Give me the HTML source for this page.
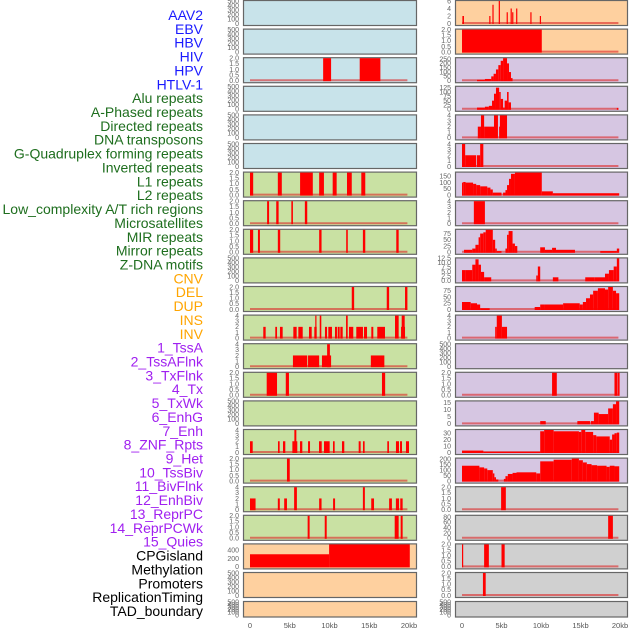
<!DOCTYPE html>
<html><head><meta charset="utf-8">
<style>
html,body{margin:0;padding:0;background:#fff;}
#chart{position:absolute;left:0;top:0;width:630px;height:630px;}
text{font-family:"Liberation Sans",sans-serif;}
</style></head>
<body>
<svg id="chart" width="630" height="630" xmlns="http://www.w3.org/2000/svg"></svg>
<script>
// ---- labels ----
const labelNames = ["AAV2","EBV","HBV","HIV","HPV","HTLV-1","Alu repeats","A-Phased repeats","Directed repeats","DNA transposons","G-Quadruplex forming repeats","Inverted repeats","L1 repeats","L2 repeats","Low_complexity A/T rich regions","Microsatellites","MIR repeats","Mirror repeats","Z-DNA motifs","CNV","DEL","DUP","INS","INV","1_TssA","2_TssAFlnk","3_TxFlnk","4_Tx","5_TxWk","6_EnhG","7_Enh","8_ZNF_Rpts","9_Het","10_TssBiv","11_BivFlnk","12_EnhBiv","13_ReprPC","14_ReprPCWk","15_Quies","CPGisland","Methylation","Promoters","ReplicationTiming","TAD_boundary"];
const labelGroups = [6,13,5,15,5];
const groupColors = ["#1a1aff","#1e6e1e","#ffa500","#a020f0","#000000"];
const xTickLabels = ["0","5kb","10kb","15kb","20kb"];
const xTickValues = [0,5,10,15,20];

// ---- tick sets ----
const t500 = [0,100,200,300,400,500];
const t2 = ["0.0","0.5","1.0","1.5","2.0"];
const t4 = [0,1,2,3,4];

// ---- bar data: [startKb, endKb, value] ----
const L3 = [[9.2,10.2,2],[13.8,16.4,2]];
const L7 = [[0,0.4,2],[3.5,4.0,2],[6.3,7.9,2],[8.7,9.3,2],[10.4,10.9,2],[12.2,12.8,2],[14.0,14.5,2]];
const L8 = [[2.15,2.4,2],[3.3,3.6,2],[5.2,5.4,2],[6.9,7.2,2]];
const L9 = [[0,0.4,2],[1.0,1.25,2],[3.5,3.8,2],[8.7,9.0,2],[12.1,12.3,2],[14.2,14.5,2],[18.4,18.7,2]];
const L11 = [[12.8,13.1,2],[17.2,17.5,2],[19.5,19.8,2]];
const L12 = [[1.67,1.97,2],[3.18,3.4,2],[3.77,4.11,2],[5.45,5.87,2],[6.08,6.63,2],[7.42,7.76,2],[8.09,8.39,2],[8.21,8.34,4],[8.77,8.97,4],[9.43,9.69,2],[9.85,10.31,2],[10.69,10.94,2],[11.03,11.28,2],[11.36,11.66,2],[12.08,12.29,4],[12.45,12.99,2],[13.37,14.21,2],[14.34,14.72,2],[15.26,15.51,2],[16.01,16.98,2],[18.24,18.7,4],[19.08,19.46,4],[19.0,19.5,2]];
const L13 = [[5.4,7.2,2],[7.3,8.7,2],[9.05,10.2,2],[9.7,10.05,4],[15.2,16.9,2]];
const L14 = [[2.1,3.4,2],[4.5,4.9,2],[16.6,17.0,2]];
const L16 = [[0,0.34,2],[3.52,3.73,2],[4.15,4.44,2],[5.33,5.95,2],[5.58,5.83,4],[6.29,6.58,2],[7.3,7.55,2],[8.68,9.02,2],[9.31,10.02,2],[10.44,10.65,2],[11.57,11.86,2],[13.67,13.92,2],[14.21,14.42,2],[17.27,17.48,2],[18.36,18.74,2],[18.87,19.12,2],[19.62,20.0,2]];
const L17 = [[4.65,5.0,2]];
const L18 = [[0,0.7,2],[3.5,3.75,2],[4.3,4.65,2],[5.55,5.9,4],[8.7,9.0,2],[10.45,10.7,2],[14.2,14.45,4],[15.25,15.6,2],[17.5,17.85,2],[18.35,18.75,2],[18.9,19.2,2]];
const L19 = [[7.25,7.5,2],[9.4,9.65,2],[18.2,18.7,2],[18.95,19.2,2]];
const L20 = [[0,9.95,300],[9.95,20.1,534]];

const R1 = [[0.05,0.25,2],[3.45,3.6,2],[3.85,4.0,5],[4.65,4.8,6],[5.65,5.8,3],[6.15,6.3,4],[6.35,6.5,3],[6.85,7.0,4],[8.65,8.8,3],[9.85,10.0,2]];
const R2 = [[0,10.1,2]];
const R3 = [[1.9,2.9,10],[2.9,3.7,20],[3.7,4.0,50],[4.0,4.3,80],[4.3,4.6,130],[4.6,4.9,180],[4.9,5.2,230],[5.2,5.7,260],[5.7,5.95,200],[5.95,6.2,100],[6.2,6.4,30]];
const R4 = [[1.9,2.9,10],[2.9,3.4,15],[3.4,3.8,20],[3.8,4.05,50],[4.05,4.3,90],[4.3,4.7,125],[4.7,4.9,100],[4.9,5.2,60],[5.2,5.4,10],[5.4,5.7,50],[5.7,5.9,100],[5.9,6.2,40],[19.6,19.8,8]];
const R5 = [[2.0,2.4,2],[2.4,2.8,4],[2.8,4.05,2],[4.05,4.55,4],[4.7,4.8,2],[4.8,5.7,4]];
const R6 = [[0,0.4,4],[0.4,1.8,2],[1.9,2.3,2],[2.3,2.7,4]];
const R7 = [[0,0.15,100],[0.15,0.45,105],[0.45,1.4,100],[1.4,1.8,90],[1.8,2.3,80],[2.3,3.2,70],[3.2,3.6,60],[3.6,3.9,45],[3.9,5.0,20],[5.2,5.5,20],[5.5,5.7,40],[5.7,5.95,80],[5.95,6.2,130],[6.2,6.7,170],[6.7,10.1,180],[10.1,11.5,30],[11.5,19.9,15]];
const R8 = [[1.5,2.9,4]];
const R9 = [[0.25,1.3,10],[1.3,1.7,15],[1.7,2.1,30],[2.1,2.3,60],[2.3,2.7,75],[2.7,3.0,80],[3.0,3.9,90],[3.9,4.2,50],[4.2,4.4,15],[4.4,5.0,5],[5.5,5.7,15],[5.7,5.9,70],[5.9,6.4,85],[6.4,6.7,35],[6.7,7.0,25],[9.9,10.5,20],[10.5,11.4,10],[11.4,11.9,18],[11.9,14.3,10],[17.5,19.6,5],[19.6,19.9,15]];
const R10 = [[0,0.4,6],[0.4,1.3,6],[1.3,1.7,9],[1.7,2.1,12],[2.1,2.4,9],[2.4,2.8,5],[2.8,3.7,2],[9.4,9.6,3],[9.6,9.9,8],[11.5,12.2,2],[15.6,16.8,2],[16.8,18.1,2],[18.1,18.6,4],[18.6,19.2,6],[19.2,19.6,8],[19.6,19.9,12.5]];
const R11 = [[0,1.1,30],[1.1,1.9,25],[1.9,2.3,20],[2.3,3.5,5],[9.2,9.9,10],[9.9,10.5,20],[10.5,12.8,20],[12.8,14.9,25],[14.9,15.3,20],[15.3,15.7,30],[15.7,16.2,45],[16.2,16.6,60],[16.6,17.2,75],[17.2,18.1,85],[18.1,18.5,80],[18.5,19.1,90],[19.1,19.5,75],[19.5,19.9,65]];
const R12 = [[4.2,4.4,2],[4.4,5.05,4],[5.05,5.7,2]];
const R14 = [[11.4,12.0,2],[19.3,19.7,2],[19.75,19.95,2]];
const R15 = [[9.9,10.6,2],[14.6,16.2,2],[16.3,16.7,2],[16.7,17.3,8],[17.3,18.5,7],[18.5,19.1,11],[19.1,19.5,14],[19.5,19.9,16]];
const R16 = [[0,2.7,3],[2.7,9.9,1],[9.9,10.4,33],[10.4,11.6,35],[11.6,14.8,33],[14.8,15.1,32],[15.1,15.6,35],[15.6,16.6,32],[16.6,17.0,27],[17.0,18.7,25],[18.7,19.0,20],[19.0,19.3,28],[19.3,19.6,30],[19.6,19.9,31]];
const R17 = [[0,2.2,140],[2.2,2.8,125],[2.8,3.2,115],[3.2,3.9,100],[3.9,4.1,70],[4.1,4.3,35],[4.3,4.6,15],[5.3,5.5,20],[5.5,5.8,45],[5.8,6.4,65],[6.4,6.9,75],[6.9,9.4,80],[9.4,9.9,70],[9.9,11.6,180],[11.6,13.9,195],[13.9,14.8,205],[14.8,15.3,190],[15.3,15.8,170],[15.8,16.4,155],[16.4,17.1,145],[17.1,18.3,140],[18.3,18.7,130],[18.7,19.3,140],[19.3,19.9,135]];
const R18 = [[4.95,5.55,2]];
const R19 = [[18.5,19.1,85]];
const R20 = [[0,0.15,2],[2.8,3.4,2],[5.0,5.4,2]];
const R21 = [[2.65,3.0,2]];

const BLUE="#c8e3ea", GREEN="#c9e1a3", LAV="#d6c6e2", PEACH="#fed09f", GRAY="#d0d0d0";
// [row, col, bg, ticks, domainMax, bars, baseline]
const panels = [
 [0,0,BLUE,t500,500,null],[0,1,PEACH,[0,2,4,6],6,R1],
 [1,0,BLUE,t500,500,null],[1,1,PEACH,t2,2,R2],
 [2,0,BLUE,t2,2,L3],[2,1,LAV,[0,50,100,150,200,250],260,R3],
 [3,0,BLUE,t500,500,null],[3,1,LAV,[0,25,50,75,100,125],130,R4],
 [4,0,BLUE,t500,500,null],[4,1,LAV,t4,4,R5],
 [5,0,BLUE,t500,500,null],[5,1,LAV,t4,4,R6],
 [6,0,GREEN,t2,2,L7],[6,1,LAV,[0,50,100,150],180,R7],
 [7,0,GREEN,t2,2,L8],[7,1,LAV,t4,4,R8],
 [8,0,GREEN,t2,2,L9],[8,1,LAV,[0,25,50,75],90,R9],
 [9,0,GREEN,t500,500,null],[9,1,LAV,["0.0","2.5","5.0","7.5","10.0","12.5"],12.5,R10],
 [10,0,GREEN,t2,2,L11],[10,1,LAV,[0,25,50,75],90,R11],
 [11,0,GREEN,t4,4,L12],[11,1,LAV,t4,4,R12],
 [12,0,GREEN,t4,4,L13],[12,1,LAV,t500,500,null],
 [13,0,GREEN,t2,2,L14],[13,1,LAV,t2,2,R14],
 [14,0,GREEN,t500,500,null],[14,1,LAV,[0,5,10,15],16,R15],
 [15,0,GREEN,t4,4,L16],[15,1,LAV,[0,10,20,30],35,R16],
 [16,0,GREEN,t2,2,L17],[16,1,LAV,[0,50,100,150,200],205,R17],
 [17,0,GREEN,t4,4,L18],[17,1,GRAY,t2,2,R18],
 [18,0,GREEN,t2,2,L19],[18,1,GRAY,[0,20,40,60,80],85,R19],
 [19,0,PEACH,[0,200,400],534,L20,true],[19,1,GRAY,t2,2,R20],
 [20,0,PEACH,t500,500,null],[20,1,GRAY,t2,2,R21],
 [21,0,PEACH,t500,500,null],[21,1,GRAY,t500,500,null]
];

const NS="http://www.w3.org/2000/svg";
const svg=document.getElementById('chart');
function mk(tag,attrs,parent){const e=document.createElementNS(NS,tag);for(const k in attrs)e.setAttribute(k,attrs[k]);(parent||svg).appendChild(e);return e;}

// labels
let li=0;
labelGroups.forEach((n,g)=>{for(let i=0;i<n;i++){const t=mk('text',{x:203,y:20+li*13.86,'text-anchor':'end','font-size':'14',fill:groupColors[g]});t.textContent=labelNames[li];


li++;}});

const colX=[243,455], colW=[173,172], x0=[250,462], kbPx=[7.95,7.9];
function xs(col,kb){return x0[col]+kb*kbPx[col];}
function rowTop(r){return r<21?r*28.6:601;}

panels.forEach(p=>{
 const [r,c,bg,ticks,dmax,bars,noBase]=p;
 const top=rowTop(r), h=r<21?25:15.5;
 const y0=top+h-1.5, y1=top+1;
 const ys=v=>y0-(v/dmax)*(y0-y1);
 const g=mk('g',{});
 
 
 const rect=mk('rect',{x:colX[c]+0.5,y:top+0.5,width:colW[c],height:h,fill:bg,stroke:'#666',"stroke-width":1.2},g);
 
 
 // ticks
 ticks.forEach(t=>{const v=parseFloat(t);const tx=mk('text',{x:colX[c]-4,y:ys(v)+2.3,'text-anchor':'end','font-size':'7',fill:'#666'},g);tx.textContent=String(t);
  
  });
 if(bars){
  if(!noBase){const b=mk('line',{x1:xs(c,0),x2:xs(c,19.8),y1:y0-0.5,y2:y0-0.5,stroke:'rgba(220,40,40,0.6)','stroke-width':2},g);
   
   }
  bars.forEach(b=>{const xa=xs(c,b[0]),xb=xs(c,b[1]);const yy=Math.max(ys(b[2]),y1);
   const e=mk('rect',{x:xa,y:yy,width:Math.max(xb-xa,1.2),height:y0-yy+0.5,fill:'#ff0000'},g);
   
   });
 }
});

// x axes
[0,1].forEach(c=>{xTickValues.forEach((v,i)=>{const t=mk('text',{x:xs(c,v),y:628,'text-anchor':'middle','font-size':'7.5',fill:'#555'});t.textContent=xTickLabels[i];
 
 });});
</script>
</body></html>
